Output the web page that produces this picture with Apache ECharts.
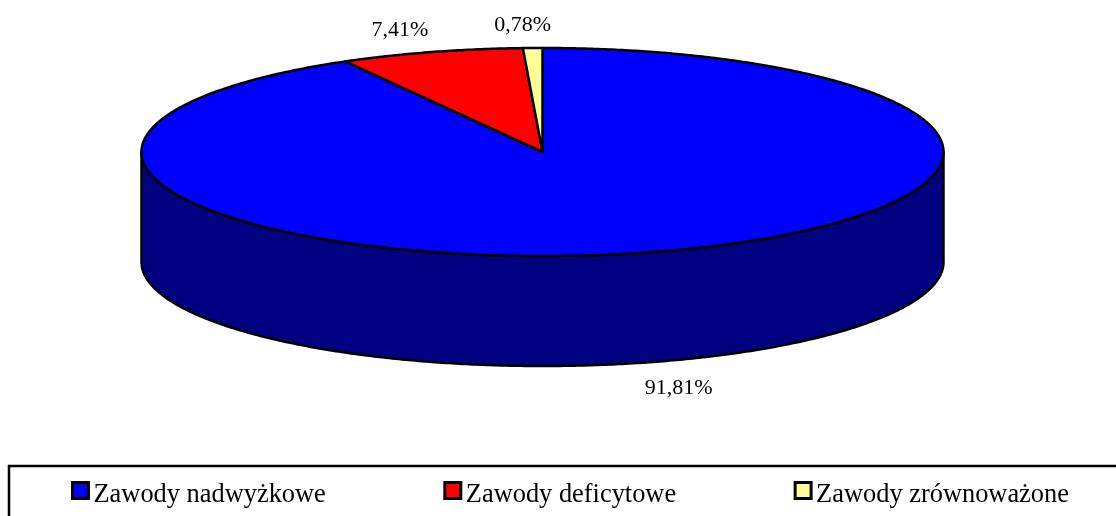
<!DOCTYPE html>
<html>
<head>
<meta charset="utf-8">
<title>Zawody</title>
<script src="https://cdn.jsdelivr.net/npm/echarts@6/dist/echarts.min.js"></script>
<style>
  html, body { margin: 0; padding: 0; background: #fff; }
  #chart { width: 1116px; height: 516px; }
</style>
</head>
<body>
<div id="chart"></div>
<script>
// dane
var categories = ['Zawody nadwyżkowe', 'Zawody deficytowe', 'Zawody zrównoważone'];
var shares = [91.81, 7.41, 0.78];

var topColors = ['#0000FF', '#FF0000', '#FFFF99'];
var sideColors = ['#000080', '#800000', '#808040'];
var labelOffsets = [[34, 26], [-31, -22], [-10, -23]];

// geometria "tortu" 3D
var cx = 542.5, cy = 152, rx = 401, ry = 104, depth = 110;
var total = shares.reduce(function (a, b) { return a + b; }, 0);

function ellipsePoint(deg, dy) {
    var t = deg * Math.PI / 180;
    return [cx + rx * Math.sin(t), cy - ry * Math.cos(t) + (dy || 0)];
}

function arcPoints(from, to, dy) {
    var pts = [];
    var steps = Math.max(2, Math.ceil((to - from) * 2));
    for (var i = 0; i <= steps; i++) {
        pts.push(ellipsePoint(from + (to - from) * i / steps, dy));
    }
    return pts;
}

function startAngle(index) {
    var sum = 0;
    for (var i = 0; i < index; i++) sum += shares[i];
    return sum / total * 360;
}

function renderSlice(index) {
    return function () {
        var from = startAngle(index);
        var to = from + shares[index] / total * 360;
        var mid = (from + to) / 2;
        var children = [];
        // widoczna jest tylko przednia czesc boku (90-270 stopni)
        var sideFrom = Math.max(from, 90), sideTo = Math.min(to, 270);
        if (sideTo > sideFrom) {
            var upper = arcPoints(sideFrom, sideTo, 0);
            var lower = arcPoints(sideFrom, sideTo, depth).reverse();
            children.push({
                type: 'polygon',
                shape: { points: upper.concat(lower) },
                style: { fill: sideColors[index], stroke: '#000', lineWidth: 2.5, lineJoin: 'round' }
            });
        }
        children.push({
            type: 'polygon',
            shape: { points: [[cx, cy]].concat(arcPoints(from, to, 0)) },
            style: { fill: topColors[index], stroke: '#000', lineWidth: 2.5, lineJoin: 'round' }
        });
        var dy = (mid > 90 && mid < 270) ? depth : 0;
        var anchor = ellipsePoint(mid, dy);
        children.push({
            type: 'text',
            x: anchor[0] + labelOffsets[index][0],
            y: anchor[1] + labelOffsets[index][1],
            style: {
                text: shares[index].toFixed(2).replace('.', ',') + '%',
                font: '22px "Liberation Serif"',
                fill: '#000',
                align: 'center',
                verticalAlign: 'middle'
            }
        });
        return { type: 'group', children: children };
    };
}

var myChart = echarts.init(document.getElementById('chart'), null, { renderer: 'canvas' });
myChart.setOption({
    animation: false,
    backgroundColor: '#fff',
    graphic: [{
        type: 'rect',
        silent: true,
        shape: { x: 9, y: 466, width: 1200, height: 100 },
        style: { fill: 'none', stroke: '#000', lineWidth: 2.5 }
    }],
    legend: {
        data: categories,
        left: 71,
        top: 481,
        padding: 0,
        orient: 'horizontal',
        icon: 'rect',
        itemWidth: 16,
        itemHeight: 16,
        itemGap: 117.5,
        selectedMode: false,
        itemStyle: { borderColor: '#000', borderWidth: 3 },
        formatter: '{a|{name}}',
        textStyle: {
            rich: {
                a: {
                    fontFamily: 'Liberation Serif',
                    fontSize: 26.4,
                    color: '#000',
                    padding: [10, 0, 0, 0]
                }
            }
        }
    },
    series: categories.map(function (name, i) {
        return {
            type: 'custom',
            name: name,
            coordinateSystem: 'none',
            silent: true,
            itemStyle: { color: topColors[i] },
            data: [[shares[i]]],
            renderItem: renderSlice(i)
        };
    })
});
</script>
</body>
</html>
